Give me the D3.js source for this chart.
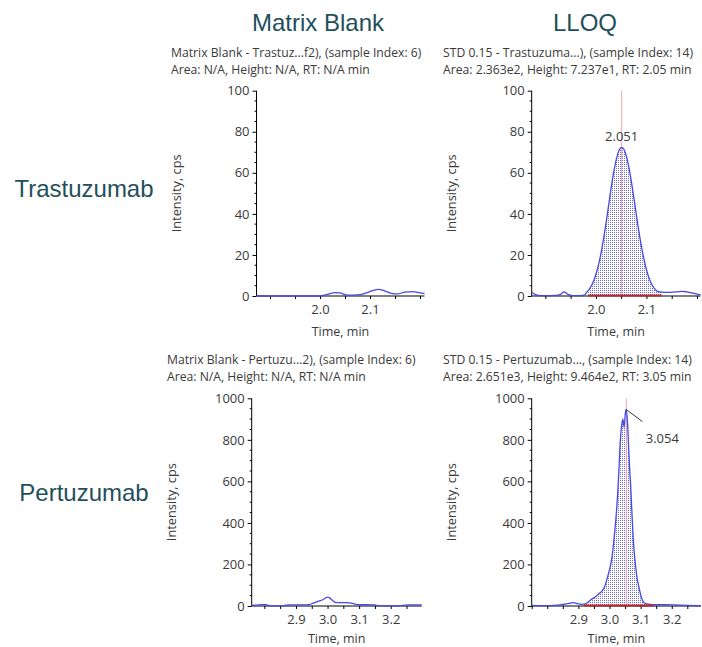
<!DOCTYPE html>
<html><head><meta charset="utf-8">
<script src="https://cdn.jsdelivr.net/npm/d3@7"></script>
<style>
html,body{margin:0;padding:0;background:#fff;}
svg{display:block;}
</style></head>
<body>
<svg id="chart" width="702" height="647"></svg>
<script>
// ---------- DATA ----------
const columnHeadings = ["Matrix Blank", "LLOQ"];
const rowHeadings = ["Trastuzumab", "Pertuzumab"];

const panelTitles = [
  ["Matrix Blank - Trastuz...f2), (sample Index: 6)", "Area: N/A, Height: N/A, RT: N/A min"],
  ["STD 0.15 - Trastuzuma...), (sample Index: 14)", "Area: 2.363e2, Height: 7.237e1, RT: 2.05 min"],
  ["Matrix Blank - Pertuzu...2), (sample Index: 6)", "Area: N/A, Height: N/A, RT: N/A min"],
  ["STD 0.15 - Pertuzumab..., (sample Index: 14)", "Area: 2.651e3, Height: 9.464e2, RT: 3.05 min"]
];

// Trastuzumab, matrix blank
const trastBlankTime = [1.873,1.90,1.95,1.99,2.000,2.015,2.030,2.040,2.050,2.060,2.075,2.090,2.105,2.117,2.130,2.145,2.155,2.170,2.185,2.195,2.209];
const trastBlankIntensity = [0,0,0,0,0.1,0.8,1.6,1.5,0.7,0.4,0.5,1.3,2.6,3.2,2.4,1.2,1.0,1.9,2.1,1.8,1.2];

// Trastuzumab, LLOQ
const trastLloqTime = [1.873,1.878,1.885,1.900,1.920,1.930,1.937,1.945,1.955,1.970,1.978,
  1.981,1.986,1.991,1.996,2.001,2.006,2.011,2.016,2.021,2.026,2.031,2.036,2.041,2.046,2.051,
  2.056,2.061,2.066,2.071,2.076,2.081,2.086,2.091,2.096,2.101,2.106,2.111,2.116,2.121,
  2.130,2.145,2.160,2.170,2.180,2.190,2.200,2.207];
const trastLloqIntensity = [1.8,1.0,0.3,0.2,0.3,0.8,2.0,0.8,0.2,0.2,0.6,
  1.5,3.0,5.0,7.6,11.3,16.0,22.0,29.0,37.0,45.5,54.0,61.3,67.2,71.0,72.4,
  71.2,67.5,61.8,54.5,46.5,38.0,30.0,23.0,17.0,12.0,8.2,5.5,3.6,2.4,
  1.9,1.8,2.0,2.3,2.0,1.5,0.9,0.6];
const trastRT = 2.051, trastIntStart = 1.985, trastIntEnd = 2.130;

// Pertuzumab, matrix blank
const pertBlankTime = [2.760,2.775,2.790,2.805,2.815,2.830,2.850,2.865,2.880,2.900,2.925,2.940,2.955,2.970,2.985,3.000,3.005,3.015,3.025,3.040,3.060,3.075,3.090,3.100,3.120,3.150,3.160,3.180,3.200,3.220,3.240,3.260,3.280,3.298];
const pertBlankIntensity = [3,4,7,6,2,1,1,3,5,5,5,6,14,22,30,43,40,28,17,16,16,14,8,6,6,5,2,1,1,1,3,5,5,5];

// Pertuzumab, LLOQ
const pertLloqTime = [2.750,2.780,2.800,2.820,2.840,2.860,2.875,2.885,2.895,2.910,2.925,2.940,2.955,2.965,2.975,2.985,2.992,
  3.000,3.008,3.015,3.020,3.027,3.031,3.035,3.040,3.043,3.047,3.051,3.054,3.058,3.061,3.064,3.068,3.072,3.076,3.080,3.084,
  3.089,3.094,3.100,3.106,3.112,3.120,3.130,3.150,3.180,3.210,3.250,3.294];
const pertLloqIntensity = [3,2,2,3,5,10,14,16,12,8,12,30,45,58,70,95,130,
  175,235,330,410,560,680,800,880,900,860,930,946,880,780,680,580,450,330,250,190,
  130,95,55,28,15,10,8,6,6,5,3,2];
const pertRT = 3.054, pertIntStart = 2.917, pertIntEnd = 3.142;

// Axis tick settings (values)
const trastYTicks = [0,20,40,60,80,100];
const pertYTicks = [0,200,400,600,800,1000];
const trastXTickLabels = [2.0, 2.1];
const pertXTickLabels = [2.9, 3.0, 3.1, 3.2];

// ---------- DRAW ----------
const svg = d3.select("#chart");
const headColor = "#1f4f5c";
const textColor = "#3a3a3a";
const traceColor = "#4848e2";
const uiFont = "'Open Sans', 'Noto Sans', Lato, Arial, sans-serif";
const headFont = "'Liberation Sans', Arial, sans-serif";

// dot pattern for integrated area
const defs = svg.append("defs");
const pat = defs.append("pattern").attr("id","dots").attr("patternUnits","userSpaceOnUse")
  .attr("width",2).attr("height",2);
pat.append("rect").attr("width",2).attr("height",2).attr("fill","#ffffff");
pat.append("rect").attr("x",0).attr("y",0).attr("width",1).attr("height",1).attr("fill","#6a6ad8");

// headings
function heading(txt, x, y) {
  svg.append("text").attr("x",x).attr("y",y).attr("text-anchor","middle")
    .attr("font-family",headFont).attr("font-size",24)
    .attr("fill",headColor).text(txt);
}
heading(columnHeadings[0], 318, 31);
heading(columnHeadings[1], 585, 31);
heading(rowHeadings[0], 84, 197);
heading(rowHeadings[1], 84, 501);

const panels = [
  {title: panelTitles[0], tx:171, ty:57, x0:256.5, x1:424.5, yT:90.7, yB:296, xd:[1.873,2.209], ymax:100, ymin:5, yt:trastYTicks, xl:trastXTickLabels,
   time:trastBlankTime, val:trastBlankIntensity, xlab:40},
  {title: panelTitles[1], tx:443, ty:57, x0:531.7, x1:700.5, yT:90.7, yB:296, xd:[1.873,2.207], ymax:100, ymin:5, yt:trastYTicks, xl:trastXTickLabels,
   time:trastLloqTime, val:trastLloqIntensity, rt:trastRT, is:trastIntStart, ie:trastIntEnd, lab:"2.051", leader:false, xlab:40},
  {title: panelTitles[2], tx:167, ty:364, x0:251.7, x1:421.7, yT:398.3, yB:606, xd:[2.760,3.298], ymax:1000, ymin:50, yt:pertYTicks, xl:pertXTickLabels,
   time:pertBlankTime, val:pertBlankIntensity, xlab:37},
  {title: panelTitles[3], tx:443, ty:364, x0:531.7, x1:701, yT:398.3, yB:606, xd:[2.750,3.294], ymax:1000, ymin:50, yt:pertYTicks, xl:pertXTickLabels,
   time:pertLloqTime, val:pertLloqIntensity, rt:pertRT, is:pertIntStart, ie:pertIntEnd, lab:"3.054", leader:true, xlab:37}
];

panels.forEach((p,i)=>{
  const g = svg.append("g");
  const x = d3.scaleLinear().domain(p.xd).range([p.x0,p.x1]);
  const y = d3.scaleLinear().domain([0,p.ymax]).range([p.yB,p.yT]);
  const data = p.time.map((t,k)=>({t, v:p.val[k]}));

  // titles
  g.append("text").attr("x",p.tx).attr("y",p.ty).attr("font-family",uiFont).attr("font-size",12.2)
    .attr("fill",textColor).text(p.title[0]);
  g.append("text").attr("x",p.tx).attr("y",p.ty+16.5).attr("font-family",uiFont).attr("font-size",12.2)
    .attr("fill",textColor).text(p.title[1]);

  // integrated area
  if (p.rt !== undefined) {
    const cid = "clip"+i;
    defs.append("clipPath").attr("id",cid).append("rect")
      .attr("x",x(p.is)).attr("y",p.yT-5).attr("width",x(p.ie)-x(p.is)).attr("height",p.yB-p.yT+5);
    g.append("path").datum(data).attr("clip-path",`url(#${cid})`)
      .attr("fill","url(#dots)")
      .attr("d", d3.area().x(d=>x(d.t)).y0(y(0)).y1(d=>y(d.v)).curve(d3.curveMonotoneX));
    g.append("line").attr("x1",x(p.rt)).attr("x2",x(p.rt)).attr("y1",p.yT).attr("y2",p.yB)
      .attr("stroke","#f2a3ab").attr("stroke-width",1);
  }

  // y axis
  const yAxis = d3.axisLeft(y).tickValues(p.yt).tickSize(4).tickPadding(3).tickFormat(d3.format("d"));
  const ya = g.append("g").attr("transform",`translate(${p.x0},0)`).call(yAxis);
  ya.select(".domain").attr("stroke","#000").attr("d",`M0,${p.yT}V${p.yB}`);
  ya.selectAll(".tick line").attr("stroke","#000");
  ya.selectAll("text").attr("font-family",uiFont).attr("font-size",13).attr("fill",textColor);
  const yMinor = d3.range(0, p.ymax+0.001, p.ymin).filter(v=>!p.yt.includes(v));
  g.append("g").selectAll("line").data(yMinor).join("line")
    .attr("x1",p.x0-2).attr("x2",p.x0).attr("y1",d=>y(d)).attr("y2",d=>y(d)).attr("stroke","#000");

  // x axis
  const xMinor = d3.range(Math.ceil(p.xd[0]/0.05)*0.05, p.xd[1], 0.05);
  const xAxis = d3.axisBottom(x).tickValues(xMinor).tickSize(3).tickPadding(6)
     .tickFormat(d=> p.xl.some(v=>Math.abs(v-d)<1e-6) ? d3.format(".1f")(d) : "");
  const xa = g.append("g").attr("transform",`translate(0,${p.yB})`).call(xAxis);
  xa.select(".domain").attr("stroke","#000").attr("d",`M${p.x0},0H${p.x1}`);
  xa.selectAll(".tick line").attr("stroke","#000");
  xa.selectAll("text").attr("font-family",uiFont).attr("font-size",13).attr("fill",textColor);

  // axis labels
  g.append("text").attr("transform",`translate(${p.x0-80},${(p.yT+p.yB)/2}) rotate(-90)`)
    .attr("text-anchor","middle").attr("dy","0.35em")
    .attr("font-family",uiFont).attr("font-size",12.8).attr("fill",textColor).text("Intensity, cps");
  g.append("text").attr("x",(p.x0+p.x1)/2).attr("y",p.yB+p.xlab).attr("text-anchor","middle")
    .attr("font-family",uiFont).attr("font-size",12.5).attr("fill",textColor).text("Time, min");

  // trace
  g.append("path").datum(data).attr("fill","none").attr("stroke",traceColor).attr("stroke-width",1.3)
    .attr("d", d3.line().x(d=>x(d.t)).y(d=>y(d.v)).curve(d3.curveMonotoneX));

  if (p.rt !== undefined) {
    g.append("line").attr("x1",x(p.is)).attr("x2",x(p.ie)).attr("y1",y(0)-0.5).attr("y2",y(0)-0.5)
      .attr("stroke","#c02828").attr("stroke-width",2);
    const apex = data.reduce((a,b)=> b.v>a.v?b:a);
    if (p.leader) {
      g.append("line").attr("x1",x(apex.t)).attr("y1",y(apex.v)).attr("x2",x(apex.t)+16).attr("y2",y(apex.v)+12)
        .attr("stroke","#333").attr("stroke-width",1);
      g.append("text").attr("x",x(apex.t)+36).attr("y",y(apex.v)+33).attr("text-anchor","middle")
        .attr("font-family",uiFont).attr("font-size",13).attr("fill",textColor).text(p.lab);
    } else {
      g.append("text").attr("x",x(apex.t)).attr("y",y(apex.v)-6).attr("text-anchor","middle")
        .attr("font-family",uiFont).attr("font-size",13).attr("fill",textColor).text(p.lab);
    }
  }
});
</script>
</body></html>
